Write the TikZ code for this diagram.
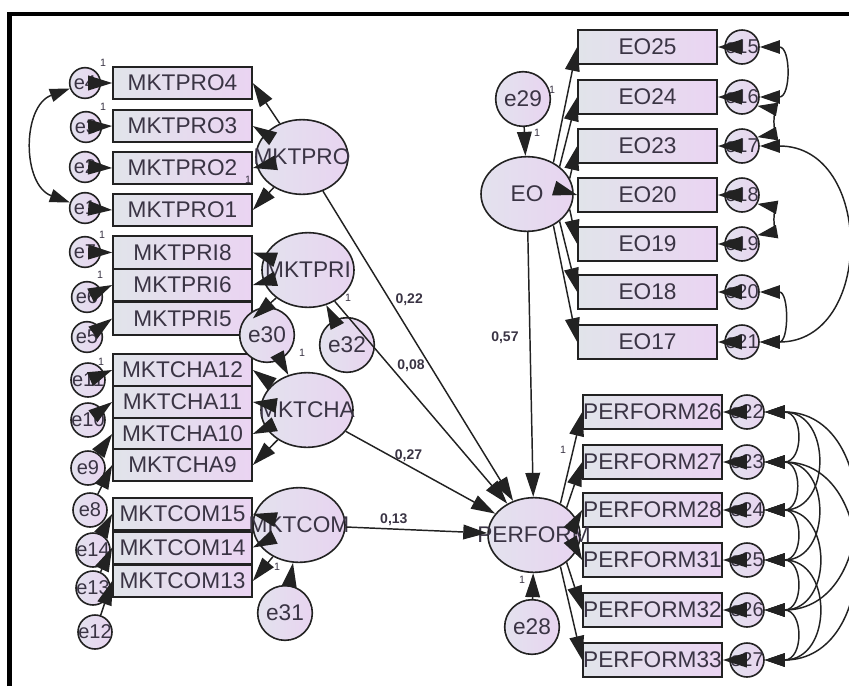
\documentclass[tikz,border=0pt]{standalone}
\usepackage{fontspec}
\setmainfont{Liberation Sans}
\usetikzlibrary{arrows.meta, shapes.geometric}

\definecolor{ink}{HTML}{222222}
\definecolor{txt}{HTML}{3A3444}
\definecolor{boxL}{HTML}{E1E4EA}
\definecolor{boxR}{HTML}{EAD4F2}
\definecolor{latL}{HTML}{E3E2EE}
\definecolor{latR}{HTML}{E8D4F0}

% keep long names from widening the ovals
\newcommand{\nw}[1]{\makebox[0pt]{#1}}

\begin{document}
\begin{tikzpicture}[x=0.75pt, y=0.75pt,
    ind/.style={draw=ink, line width=1.5pt, left color=boxL, right color=boxR, minimum width=104pt, minimum height=24.5pt, inner sep=0pt, text=txt, font=\fontsize{17}{17}\selectfont},
    lat/.style={ellipse, draw=ink, line width=1.2pt, left color=latL, right color=latR, minimum width=69pt, minimum height=56pt, inner sep=0pt, text=txt, font=\fontsize{17}{17}\selectfont},
    err/.style={circle, draw=ink, line width=1.2pt, left color=latL, right color=latR, minimum size=23pt, inner sep=0pt, text=txt, font=\fontsize{15}{15}\selectfont},
    erb/.style={err, minimum size=25.5pt},
    res/.style={err, minimum size=41pt, font=\fontsize{17}{17}\selectfont},
    arr/.style={draw=ink, line width=1.1pt, -{Triangle[length=18pt,width=11pt]}},
    cov/.style={draw=ink, line width=1.1pt, {Triangle[length=15pt,width=10pt]}-{Triangle[length=15pt,width=10pt]}},
    coef/.style={text=txt, inner sep=1pt, font=\bfseries\fontsize{10.5}{10.5}\selectfont},
    one/.style={text=txt, inner sep=0pt, font=\fontsize{8}{8}\selectfont}]
  \useasboundingbox (0,0) rectangle (849,-686);
  \draw[line width=3.2pt] (9.5,-686) -- (9.5,-14) -- (849,-14);

  % marketing indicators
  \node[ind] (mp4) at (182.5,-83)  {MKTPRO4};
  \node[ind] (mp3) at (182.5,-126) {MKTPRO3};
  \node[ind] (mp2) at (182.5,-168) {MKTPRO2};
  \node[ind] (mp1) at (182.5,-210) {MKTPRO1};
  \node[ind] (mr8) at (182.5,-252.5) {MKTPRI8};
  \node[ind] (mr6) at (182.5,-285)   {MKTPRI6};
  \node[ind] (mr5) at (182.5,-318.5) {MKTPRI5};
  \node[ind, minimum height=23.3pt] (mc12) at (182.5,-370) {MKTCHA12};
  \node[ind, minimum height=23.3pt] (mc11) at (182.5,-402) {MKTCHA11};
  \node[ind, minimum height=23.3pt] (mc10) at (182.5,-434) {MKTCHA10};
  \node[ind, minimum height=23.3pt] (mc9)  at (182.5,-465) {MKTCHA9};
  \node[ind, minimum height=24pt] (mo15) at (182.5,-514)   {MKTCOM15};
  \node[ind, minimum height=24pt] (mo14) at (182.5,-547.5) {MKTCOM14};
  \node[ind, minimum height=24pt] (mo13) at (182.5,-581)   {MKTCOM13};

  % EO and PERFORM indicators
  \node[ind, minimum height=25.5pt] (eo25) at (647.5,-47)  {EO25};
  \node[ind, minimum height=25.5pt] (eo24) at (647.5,-97)  {EO24};
  \node[ind, minimum height=25.5pt] (eo23) at (647.5,-146) {EO23};
  \node[ind, minimum height=25.5pt] (eo20) at (647.5,-195) {EO20};
  \node[ind, minimum height=25.5pt] (eo19) at (647.5,-244) {EO19};
  \node[ind, minimum height=25.5pt] (eo18) at (647.5,-292) {EO18};
  \node[ind, minimum height=25.5pt] (eo17) at (647.5,-342) {EO17};
  \node[ind, minimum height=25.5pt] (pf26) at (652.5,-412) {PERFORM26};
  \node[ind, minimum height=25.5pt] (pf27) at (652.5,-462) {PERFORM27};
  \node[ind, minimum height=25.5pt] (pf28) at (652.5,-510) {PERFORM28};
  \node[ind, minimum height=25.5pt] (pf31) at (652.5,-560) {PERFORM31};
  \node[ind, minimum height=25.5pt] (pf32) at (652.5,-610) {PERFORM32};
  \node[ind, minimum height=25.5pt] (pf33) at (652.5,-660) {PERFORM33};

  % latent variables
  \node[lat] (mktpro)  at (302,-157) {\nw{MKTPRO}};
  \node[lat] (mktpri)  at (308,-270) {\nw{MKTPRI}};
  \node[lat] (mktcha)  at (307,-410) {\nw{MKTCHA}};
  \node[lat] (mktcom)  at (299,-525) {\nw{MKTCOM}};
  \node[lat] (eo)      at (527,-194) {EO};
  \node[lat] (perform) at (534,-535) {\nw{PERFORM}};

  % disturbances
  \node[res] (e29) at (523,-99)  {e29};
  \node[res] (e32) at (347,-345) {e32};
  \node[res] (e30) at (267,-335) {e30};
  \node[res] (e31) at (285,-613) {e31};
  \node[res] (e28) at (532,-627) {e28};

  % measurement errors, left column
  \node[err] (e4) at (85,-83)  {\nw{e4}};
  \node[err] (e3) at (86,-127) {\nw{e3}};
  \node[err] (e2) at (85,-167) {\nw{e2}};
  \node[err] (e1) at (85,-208) {\nw{e1}};
  \node[err] (e7) at (85,-252) {\nw{e7}};
  \node[err] (e6) at (87,-297) {\nw{e6}};
  \node[err] (e5) at (87,-337) {\nw{e5}};
  \node[erb] (e11) at (88,-380) {\nw{e11}};
  \node[erb] (e10) at (88,-420) {\nw{e10}};
  \node[erb] (e9)  at (88,-468) {\nw{e9}};
  \node[erb] (e8)  at (90,-510) {\nw{e8}};
  \node[erb] (e14) at (93,-550) {\nw{e14}};
  \node[erb] (e13) at (93,-588) {\nw{e13}};
  \node[erb] (e12) at (95,-632) {\nw{e12}};

  % measurement errors, right column
  \node[erb] (e15) at (742,-47)  {\nw{e15}};
  \node[erb] (e16) at (742,-97)  {\nw{e16}};
  \node[erb] (e17) at (742,-146) {\nw{e17}};
  \node[erb] (e18) at (742,-195) {\nw{e18}};
  \node[erb] (e19) at (742,-244) {\nw{e19}};
  \node[erb] (e20) at (742,-292) {\nw{e20}};
  \node[erb] (e21) at (742,-342) {\nw{e21}};
  \node[erb] (e22) at (747,-412) {\nw{e22}};
  \node[erb] (e23) at (747,-462) {\nw{e23}};
  \node[erb] (e24) at (747,-510) {\nw{e24}};
  \node[erb] (e25) at (747,-560) {\nw{e25}};
  \node[erb] (e26) at (747,-610) {\nw{e26}};
  \node[erb] (e27) at (747,-660) {\nw{e27}};

  % errors into indicators
  \draw[arr] (e4) -- (mp4.west);
  \draw[arr] (e3) -- (mp3.west);
  \draw[arr] (e2) -- (mp2.west);
  \draw[arr] (e1) -- (mp1.west);
  \draw[arr] (e7) -- (mr8.west);
  \draw[arr] (e6) -- (mr6.west);
  \draw[arr] (e5) -- (mr5.west);
  \draw[arr] (e11) -- (mc12.west);
  \draw[arr] (e10) -- (mc11.west);
  \draw[arr] (e9)  -- (mc10.west);
  \draw[arr] (e8)  -- (mc9.west);
  \draw[arr] (e14) -- (mo15.west);
  \draw[arr] (e13) -- (mo14.west);
  \draw[arr] (e12) -- (mo13.west);
  \draw[arr] (e15) -- (eo25.east);
  \draw[arr] (e16) -- (eo24.east);
  \draw[arr] (e17) -- (eo23.east);
  \draw[arr] (e18) -- (eo20.east);
  \draw[arr] (e19) -- (eo19.east);
  \draw[arr] (e20) -- (eo18.east);
  \draw[arr] (e21) -- (eo17.east);
  \draw[arr] (e22) -- (pf26.east);
  \draw[arr] (e23) -- (pf27.east);
  \draw[arr] (e24) -- (pf28.east);
  \draw[arr] (e25) -- (pf31.east);
  \draw[arr] (e26) -- (pf32.east);
  \draw[arr] (e27) -- (pf33.east);

  % loadings
  \draw[arr] (mktpro) -- (mp4.east);
  \draw[arr] (mktpro) -- (mp3.east);
  \draw[arr] (mktpro) -- (mp2.east);
  \draw[arr] (mktpro) -- (mp1.east);
  \draw[arr] (mktpri) -- (mr8.east);
  \draw[arr] (mktpri) -- (mr6.east);
  \draw[arr] (mktpri) -- (mr5.east);
  \draw[arr] (mktcha) -- (mc12.east);
  \draw[arr] (mktcha) -- (mc11.east);
  \draw[arr] (mktcha) -- (mc10.east);
  \draw[arr] (mktcha) -- (mc9.east);
  \draw[arr] (mktcom) -- (mo15.east);
  \draw[arr] (mktcom) -- (mo14.east);
  \draw[arr] (mktcom) -- (mo13.east);
  \draw[arr] (eo.50)  -- (eo25.west);
  \draw[arr] (eo.40)  -- (eo24.west);
  \draw[arr] (eo.20)  -- (eo23.west);
  \draw[arr] (eo.east) -- (eo20.west);
  \draw[arr] (eo.-20) -- (eo19.west);
  \draw[arr] (eo.-40) -- (eo18.west);
  \draw[arr] (eo.-50) -- (eo17.west);
  \draw[arr] (perform.50)  -- (pf26.west);
  \draw[arr] (perform.40)  -- (pf27.west);
  \draw[arr] (perform.20)  -- (pf28.west);
  \draw[arr] (perform.-20) -- (pf31.west);
  \draw[arr] (perform.-40) -- (pf32.west);
  \draw[arr] (perform.-50) -- (pf33.west);

  % disturbances into latents
  \draw[arr] (e29) -- (eo);
  \draw[arr] (e32) -- (mktpri);
  \draw[arr] (e30) -- (mktcha);
  \draw[arr] (e31) -- (mktcom);
  \draw[arr] (e28) -- (perform);

  % structural paths
  \draw[arr] (mktpro) -- node[coef, pos=0.35, right=3pt] {0,22} (perform);
  \draw[arr] (mktpri) -- node[coef, pos=0.32, right=4pt] {0,08} (perform);
  \draw[arr] (mktcha) -- node[coef, pos=0.42, above=2pt] {0,27} (perform);
  \draw[arr] (mktcom) -- node[coef, pos=0.34, above=1pt] {0,13} (perform);
  \draw[arr] (eo) -- node[coef, pos=0.4, left=7pt] {0,57} (perform);

  % covariances
  \draw[cov] (e4.200) to[out=200, in=160, looseness=1.15] (e1.160);
  \draw[cov] (e15.east) to[out=0, in=0, looseness=1.6] (e16.east);
  \draw[cov] (e16.-30) to[out=-10, in=10, looseness=1.3] (e17.30);
  \draw[cov] (e17.east) to[out=0, in=0, looseness=1.5] (e21.east);
  \draw[cov] (e18.-30) to[out=-10, in=10, looseness=1.3] (e19.30);
  \draw[cov] (e20.east) to[out=0, in=0, looseness=1.5] (e21.east);
  \draw[cov] (e22.east) to[out=0, in=0, looseness=2] (e23.east);
  \draw[cov] (e23.east) to[out=0, in=0, looseness=2] (e24.east);
  \draw[cov] (e24.east) to[out=0, in=0, looseness=2] (e25.east);
  \draw[cov] (e25.east) to[out=0, in=0, looseness=2] (e26.east);
  \draw[cov] (e26.east) to[out=0, in=0, looseness=2] (e27.east);
  \draw[cov] (e22.east) to[out=0, in=0, looseness=1.75] (e24.east);
  \draw[cov] (e23.east) to[out=0, in=0, looseness=1.75] (e25.east);
  \draw[cov] (e24.east) to[out=0, in=0, looseness=1.75] (e26.east);
  \draw[cov] (e25.east) to[out=0, in=0, looseness=1.75] (e27.east);
  \draw[cov] (e22.east) to[out=0, in=0, looseness=1.5] (e26.east);
  \draw[cov] (e23.east) to[out=0, in=0, looseness=1.5] (e27.east);

  % fixed weights
  \node[one] (w1)  at (103,-63)  {1};
  \node[one] (w2)  at (103,-107) {1};
  \node[one] (w3)  at (248,-180) {1};
  \node[one] (w4)  at (102,-235) {1};
  \node[one] (w5)  at (100,-275) {1};
  \node[one] (w6)  at (101,-362) {1};
  \node[one] (w7)  at (348,-298) {1};
  \node[one] (w8)  at (302,-353) {1};
  \node[one] (w9)  at (277,-567) {1};
  \node[one] (w10) at (522,-580) {1};
  \node[one] (w11) at (563,-450) {1};
  \node[one] (w12) at (552,-90)  {1};
  \node[one] (w13) at (537,-133) {1};
\end{tikzpicture}
\end{document}
